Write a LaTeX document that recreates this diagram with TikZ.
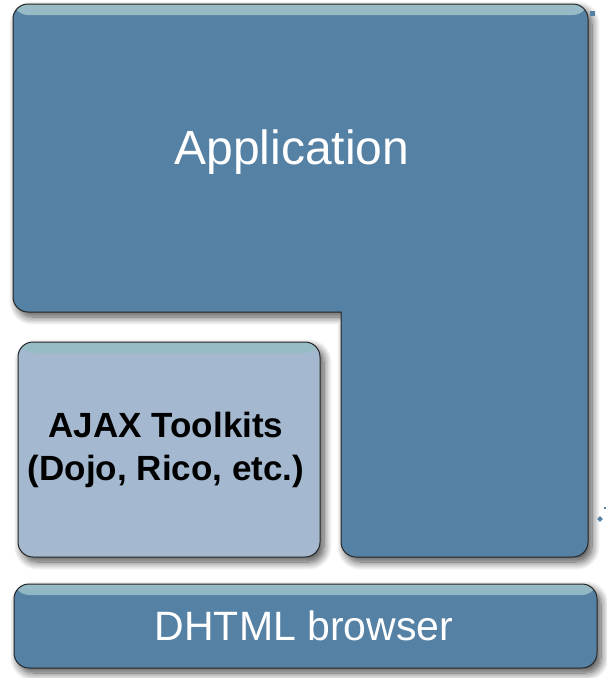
\documentclass[tikz,border=0pt]{standalone}
\usepackage{fontspec}
\setmainfont{Liberation Sans}
\usetikzlibrary{shadows.blur}
\definecolor{panelblue}{HTML}{5581A4}
\definecolor{panellight}{HTML}{A4B9CF}
\definecolor{gloss}{HTML}{97BCC6}
\begin{document}
\begin{tikzpicture}[x=1pt,y=-1pt,
    panel/.style={draw=black!85, line width=1pt, fill=#1,
        blur shadow={shadow xshift=4pt, shadow yshift=-5pt, shadow blur steps=10, shadow blur radius=8pt, shadow opacity=70},
        path picture={\fill[top color=gloss, bottom color=#1]
            (path picture bounding box.north west) rectangle
            ([yshift=-11pt]path picture bounding box.north east);}},
    label/.style={text=white, font=\fontsize{#1}{#1}\selectfont, inner sep=0pt},
    marker/.style={fill=panelblue, inner sep=0pt, minimum size=5pt}]
    \useasboundingbox (0,0) rectangle (606,678);
    % application block, wraps round the toolkits
    \path[panel=panelblue] (13,4) [rounded corners=15pt] -- (588,4) -- (588,557) -- (341,557)
        [sharp corners] -- (341,312) [rounded corners=15pt] -- (13,312) -- cycle;
    \node[label=48] (app) at (292,152) {Application};
    % toolkit block
    \path[panel=panellight, rounded corners=15pt] (18,342) rectangle (320,557);
    \node[font=\bfseries\fontsize{35}{43}\selectfont, align=center, inner sep=0pt]
        (ajax) at (166,450) {AJAX Toolkits\\(Dojo, Rico, etc.)};
    % browser at the bottom
    \path[panel=panelblue, rounded corners=15pt] (14,584) rectangle (597,668);
    \node[label=41] (dhtml) at (304,626) {DHTML browser};
    % stray marks at the right edge
    \node[marker] (m1) at (592,13) {};
    \node[marker, rotate=45, minimum size=4pt] (m2) at (600,519) {};
    \node[marker, minimum size=2pt] (m3) at (605,508) {};
\end{tikzpicture}
\end{document}
